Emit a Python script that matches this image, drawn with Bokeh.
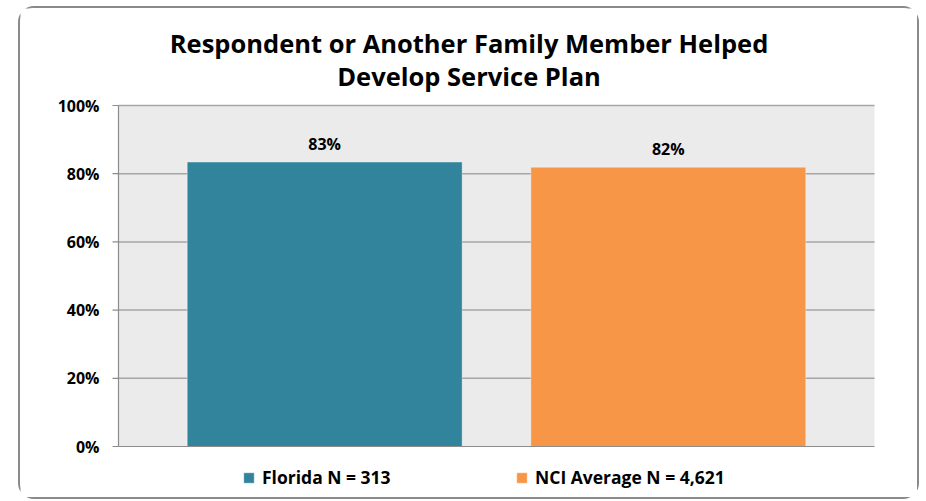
from bokeh.plotting import figure
from bokeh.models import (ColumnDataSource, Range1d, LabelSet, Label, Legend, LegendItem)
from bokeh.core.properties import value
from bokeh.embed import file_html
from bokeh.resources import INLINE

# ---- data ----
title_lines = ["Respondent or Another Family Member Helped", "Develop Service Plan"]
series_names = ["Florida N = 313", "NCI Average N = 4,621"]
series_values = [0.834, 0.819]
series_colors = ["#31849B", "#F79646"]
y_ticks = [0, 0.2, 0.4, 0.6, 0.8, 1.0]
y_tick_labels = ["0%", "20%", "40%", "60%", "80%", "100%"]

FONT = "Open Sans"

# ---- layout (canvas pixels) ----
W, H = 897, 489                 # content box of the bordered element
BORDER = 2
CW, CH = W + 2 * BORDER, H + 2 * BORDER   # size Bokeh gives the canvas
PL, PR, PT, PB = 98, 854, 97, 438          # plot-area edges inside the canvas
n = len(series_names)
x_lo, x_hi = -0.1, n + 0.1                 # plot area in data units
y_lo, y_hi = 0.0, 1.0
ppx = (PR - PL) / (x_hi - x_lo)
ppy = (PB - PT) / (y_hi - y_lo)

p = figure(
    width=W, height=H,
    x_range=Range1d(x_lo - PL / ppx, x_hi + (CW - PR) / ppx),
    y_range=Range1d(y_lo - (CH - PB) / ppy, y_hi + PT / ppy),
    x_axis_location=None, y_axis_location=None,
    output_backend="svg", toolbar_location=None,
    min_border=0,
)
p.styles = {"border": f"{BORDER}px solid #8A8A8A", "border-radius": "16px",
            "box-sizing": "content-box",
            "margin-left": "18px", "margin-top": "6px"}
p.background_fill_color = "white"
p.border_fill_color = "white"
p.outline_line_color = None
p.grid.visible = False

# plot-area background
p.quad(left=[x_lo], right=[x_hi], bottom=[y_lo], top=[y_hi],
       fill_color="#EBEBEB", line_color=None)

# horizontal grid lines
grid_y = [t for t in y_ticks if t > y_lo]
p.segment(x0=[x_lo] * len(grid_y), x1=[x_hi] * len(grid_y), y0=grid_y, y1=grid_y,
          line_color="#A6A6A6", line_width=1.5)

# bars
x_pos = [i + 0.5 for i in range(n)]
src = ColumnDataSource(dict(
    x=x_pos, top=series_values, color=series_colors, name=series_names,
    label=[f"{round(v * 100)}%" for v in series_values],
))
r = p.vbar(x="x", top="top", bottom=y_lo, width=0.8, source=src,
           fill_color="color", line_color="white", line_alpha=0.35, line_width=1)

# axes lines
p.segment(x0=[x_lo], x1=[x_hi], y0=[y_lo], y1=[y_lo], line_color="#8C8C8C", line_width=1.2)
p.segment(x0=[x_lo], x1=[x_lo], y0=[y_lo], y1=[y_hi], line_color="#8C8C8C", line_width=1.2)

# y ticks and tick labels
tick_len = 6 / ppx
p.segment(x0=[x_lo - tick_len] * len(y_ticks), x1=[x_lo] * len(y_ticks),
          y0=y_ticks, y1=y_ticks, line_color="#8C8C8C", line_width=1.2)
p.text(x=[x_lo - 19 / ppx] * len(y_ticks), y=y_ticks, text=y_tick_labels,
       text_align="right", text_baseline="middle", text_font=value(FONT),
       text_font_style="bold", text_font_size="16px", text_color="black")

# value labels
p.add_layout(LabelSet(x="x", y="top", text="label", source=src, text_align="center",
                      text_baseline="alphabetic", y_offset=12, text_font=value(FONT),
                      text_font_style="bold", text_font_size="16px", text_color="black"))

# title (screen units: from frame left / frame bottom)
title_baselines = [42.3 - 8, 75.7 - 8]      # canvas y of each baseline
for line, by in zip(title_lines, title_baselines):
    p.add_layout(Label(x=448.5, y=CH - by, x_units="screen", y_units="screen", text=line,
                       text_align="center", text_baseline="alphabetic", text_font=FONT,
                       text_font_style="bold", text_font_size="25.5px", text_color="black"))

# legend: one box per item, placed under the plot
legend_x = [222, 495]
legend_y = 8 + (CH - H)
for i, (name, lx) in enumerate(zip(series_names, legend_x)):
    lg = Legend(items=[LegendItem(label=name, renderers=[r], index=i)],
                location=(lx, legend_y), orientation="horizontal",
                glyph_width=13, glyph_height=13, label_standoff=7,
                padding=0, margin=0, spacing=0,
                border_line_color=None, background_fill_alpha=0,
                label_text_font=FONT, label_text_font_style="bold",
                label_text_font_size="17.5px", label_text_color="black")
    p.add_layout(lg, "center")

open("out.html", "w").write(file_html(p, INLINE))
